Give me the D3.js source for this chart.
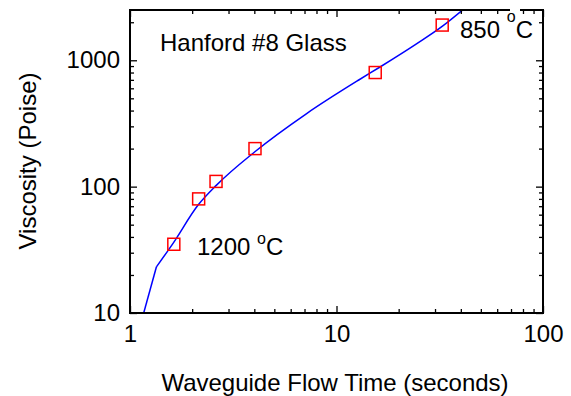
<!DOCTYPE html>
<html>
<head>
<meta charset="utf-8">
<script src="https://cdn.jsdelivr.net/npm/d3@7"></script>
<style>
  body { margin: 0; background: #fff; }
  text { font-family: "Liberation Sans", Arial, sans-serif; }
</style>
</head>
<body>
<div id="chart"></div>
<script>
// measured points (flow time s, viscosity P)
const flowTime = [1.63, 2.15, 2.61, 4.03, 15.4, 32.5]
const viscosity = [35, 80, 110, 200, 800, 1900]

// fitted curve (first segment is straight)
const fitTime = [1.165, 1.343, 1.616, 2.137, 2.624, 4.025, 7.17, 12.76, 16.25, 24.5, 32.6, 40.6]
const fitVisc = [10, 23.2, 35.6, 71.5, 102.8, 189, 379, 695, 885, 1355, 1862, 2484]

const xMajor = [1, 10, 100]
const xMinor = [2, 3, 4, 5, 6, 7, 8, 9, 20, 30, 40, 50, 60, 70, 80, 90]
const yMajor = [10, 100, 1000]
const yMinor = [20, 30, 40, 50, 60, 70, 80, 90, 200, 300, 400, 500, 600, 700, 800, 900, 2000]

const width = 571, height = 396
const margin = {top: 10, right: 28, bottom: 83, left: 130}
const fs = 24

const svg = d3.select("#chart").append("svg")
  .attr("width", width).attr("height", height)

const x = d3.scaleLog()
  .domain([1, 100])
  .range([margin.left, width - margin.right])

const y = d3.scaleLog()
  .domain([10, 2500])
  .range([height - margin.bottom, margin.top])

const bottom = height - margin.bottom, right = width - margin.right

svg.append("clipPath").attr("id", "plot")
  .append("rect")
  .attr("x", margin.left).attr("y", margin.top)
  .attr("width", right - margin.left)
  .attr("height", bottom - margin.top)

// curve
const fit = d3.zip(fitTime, fitVisc)
const straight = d3.line().x(d => x(d[0])).y(d => y(d[1]))
const smooth = d3.line().x(d => x(d[0])).y(d => y(d[1])).curve(d3.curveMonotoneX)

const curveG = svg.append("g").attr("clip-path", "url(#plot)")
  .attr("fill", "none").attr("stroke", "#0000ff").attr("stroke-width", 1.5)
curveG.append("path").attr("d", straight(fit.slice(0, 2)))
curveG.append("path").attr("d", smooth(fit.slice(1)))

// squares
const sq = 12
svg.append("g")
  .selectAll("rect")
  .data(d3.zip(flowTime, viscosity))
  .join("rect")
  .attr("x", d => x(d[0]) - sq / 2)
  .attr("y", d => y(d[1]) - sq / 2)
  .attr("width", sq).attr("height", sq)
  .attr("fill", "none")
  .attr("stroke", "#ff0000")
  .attr("stroke-width", 1.5)

// axes, ticks inward on all four sides
const styleAxis = g => g
  .call(g => g.select(".domain").remove())
  .call(g => g.selectAll("line").attr("stroke", "#000").attr("stroke-width", 1.3))
  .call(g => g.selectAll("text").attr("font-size", fs).attr("fill", "#000")
    .style("font-family", '"Liberation Sans", Arial, sans-serif'))

svg.append("g").attr("transform", `translate(0,${bottom})`)
  .call(d3.axisBottom(x).tickValues(xMajor).tickSize(-7).tickPadding(12).tickFormat(d3.format("d")))
  .call(styleAxis)
svg.append("g").attr("transform", `translate(0,${bottom})`)
  .call(d3.axisBottom(x).tickValues(xMinor).tickSize(-4).tickFormat(""))
  .call(styleAxis)
svg.append("g").attr("transform", `translate(0,${margin.top})`)
  .call(d3.axisTop(x).tickValues(xMajor).tickSize(-7).tickFormat(""))
  .call(styleAxis)
svg.append("g").attr("transform", `translate(0,${margin.top})`)
  .call(d3.axisTop(x).tickValues(xMinor).tickSize(-4).tickFormat(""))
  .call(styleAxis)

svg.append("g").attr("transform", `translate(${margin.left},0)`)
  .call(d3.axisLeft(y).tickValues(yMajor).tickSize(-7).tickPadding(10).tickFormat(d3.format("d")))
  .call(styleAxis)
svg.append("g").attr("transform", `translate(${margin.left},0)`)
  .call(d3.axisLeft(y).tickValues(yMinor).tickSize(-4).tickFormat(""))
  .call(styleAxis)
svg.append("g").attr("transform", `translate(${right},0)`)
  .call(d3.axisRight(y).tickValues(yMajor).tickSize(-7).tickFormat(""))
  .call(styleAxis)
svg.append("g").attr("transform", `translate(${right},0)`)
  .call(d3.axisRight(y).tickValues(yMinor).tickSize(-4).tickFormat(""))
  .call(styleAxis)

// frame
svg.append("rect")
  .attr("x", margin.left).attr("y", margin.top)
  .attr("width", right - margin.left).attr("height", bottom - margin.top)
  .attr("fill", "none").attr("stroke", "#000").attr("stroke-width", 2)

// annotations
svg.append("text")
  .attr("x", 160).attr("y", 51)
  .attr("font-size", fs)
  .text("Hanford #8 Glass")

const tempLabel = (tx, ty, t, rise) => {
  const txt = svg.append("text").attr("x", tx).attr("y", ty).attr("font-size", fs)
  txt.append("tspan").text(t + " ")
  txt.append("tspan").attr("font-size", 16).attr("dy", -rise).text("o")
  txt.append("tspan").attr("dy", rise).text("C")
}
// white box under the superscript breaks the top frame as in the original
svg.append("rect").attr("x", 510).attr("y", 8).attr("width", 10).attr("height", 5).attr("fill", "#fff")
tempLabel(460, 38, "850", 16)
tempLabel(197, 255, "1200", 11)

// axis titles
svg.append("text")
  .attr("x", 335).attr("y", 391)
  .attr("text-anchor", "middle")
  .attr("font-size", fs)
  .text("Waveguide Flow Time (seconds)")

svg.append("text")
  .attr("transform", "translate(36,161) rotate(-90)")
  .attr("text-anchor", "middle")
  .attr("font-size", fs)
  .text("Viscosity (Poise)")
</script>
</body>
</html>
